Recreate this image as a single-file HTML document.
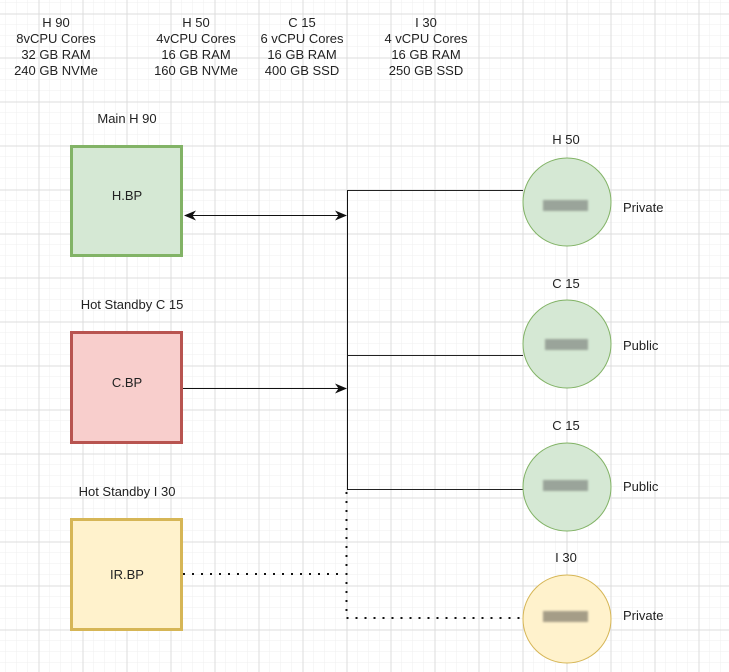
<!DOCTYPE html>
<html><head><meta charset="utf-8"><style>
html,body{margin:0;padding:0;background:#fff;}
body{width:729px;height:672px;overflow:hidden;position:relative;}
svg{position:absolute;left:0;top:0;}
text{font-family:"Liberation Sans",Arial,sans-serif;font-size:13px;fill:#222;}
</style></head><body>
<svg width="729" height="672" xmlns="http://www.w3.org/2000/svg">
<defs>
<pattern id="minor" x="-5" y="3" width="11" height="11" patternUnits="userSpaceOnUse">
<path d="M11 0V11M0 11H11" stroke="#efefef" stroke-width="1" fill="none"/>
</pattern>
<pattern id="major" x="-5.5" y="13.5" width="44" height="44" patternUnits="userSpaceOnUse">
<path d="M0.5 0V44M0 0.5H44" stroke="#dcdcdc" stroke-width="1" fill="none"/>
</pattern>
<marker id="ah" markerWidth="12" markerHeight="12" refX="11" refY="6" orient="auto-start-reverse" markerUnits="userSpaceOnUse">
<path d="M0,1 L12,6 L0,11 L3.5,6 Z" fill="#111"/>
</marker>
<filter id="bl"><feGaussianBlur stdDeviation="1"/></filter>
</defs>
<rect width="729" height="672" fill="url(#minor)"/>
<rect width="729" height="672" fill="url(#major)"/>

<g text-anchor="middle">
<text x="56" y="27">H 90</text><text x="56" y="43">8vCPU Cores</text><text x="56" y="59">32 GB RAM</text><text x="56" y="75">240 GB NVMe</text>
<text x="196" y="27">H 50</text><text x="196" y="43">4vCPU Cores</text><text x="196" y="59">16 GB RAM</text><text x="196" y="75">160 GB NVMe</text>
<text x="302" y="27">C 15</text><text x="302" y="43">6 vCPU Cores</text><text x="302" y="59">16 GB RAM</text><text x="302" y="75">400 GB SSD</text>
<text x="426" y="27">I 30</text><text x="426" y="43">4 vCPU Cores</text><text x="426" y="59">16 GB RAM</text><text x="426" y="75">250 GB SSD</text>
<text x="127" y="123">Main H 90</text>
<text x="132" y="309">Hot Standby  C 15</text>
<text x="127" y="496">Hot Standby I 30</text>
<text x="566" y="144">H 50</text>
<text x="566" y="288">C 15</text>
<text x="566" y="430">C 15</text>
<text x="566" y="562">I 30</text>
</g>

<rect x="71.5" y="146.5" width="110" height="109" fill="#d5e8d4" stroke="#82b366" stroke-width="3"/>
<rect x="71.5" y="332.5" width="110" height="110" fill="#f8cecc" stroke="#b85450" stroke-width="3"/>
<rect x="71.5" y="519.5" width="110" height="110" fill="#fff2cc" stroke="#d6b656" stroke-width="3"/>
<g text-anchor="middle">
<text x="127" y="200">H.BP</text>
<text x="127" y="387">C.BP</text>
<text x="127" y="579">IR.BP</text>
</g>

<path d="M347.5 190V490" stroke="#111" stroke-width="1" fill="none"/>
<path d="M347.5 190.5H523M347.5 355.5H523M347.5 489.5H523" stroke="#222" stroke-width="1" fill="none"/>
<path d="M346.5 492V618H520" stroke="#111" stroke-width="2" stroke-dasharray="2,7" fill="none"/>
<path d="M183 574H344" stroke="#111" stroke-width="2" stroke-dasharray="2,7" fill="none"/>
<path d="M185 215.5H346" stroke="#111" stroke-width="1" marker-start="url(#ah)" marker-end="url(#ah)"/>
<path d="M183 388.5H346" stroke="#111" stroke-width="1" marker-end="url(#ah)"/>

<circle cx="567" cy="202" r="44" fill="#d5e8d4" stroke="#82b366"/>
<circle cx="567" cy="344" r="44" fill="#d5e8d4" stroke="#82b366"/>
<circle cx="567" cy="487" r="44" fill="#d5e8d4" stroke="#82b366"/>
<circle cx="567" cy="619" r="44" fill="#fff2cc" stroke="#d6b656"/>
<g filter="url(#bl)" fill="#9aa49a">
<rect x="543" y="200" width="45" height="11"/>
<rect x="545" y="339" width="43" height="11"/>
<rect x="543" y="480" width="45" height="11"/>
<rect x="543" y="611" width="45" height="11" fill="#a59d87"/>
</g>
<text x="623" y="212">Private</text>
<text x="623" y="350">Public</text>
<text x="623" y="491">Public</text>
<text x="623" y="620">Private</text>
</svg>
</body></html>
